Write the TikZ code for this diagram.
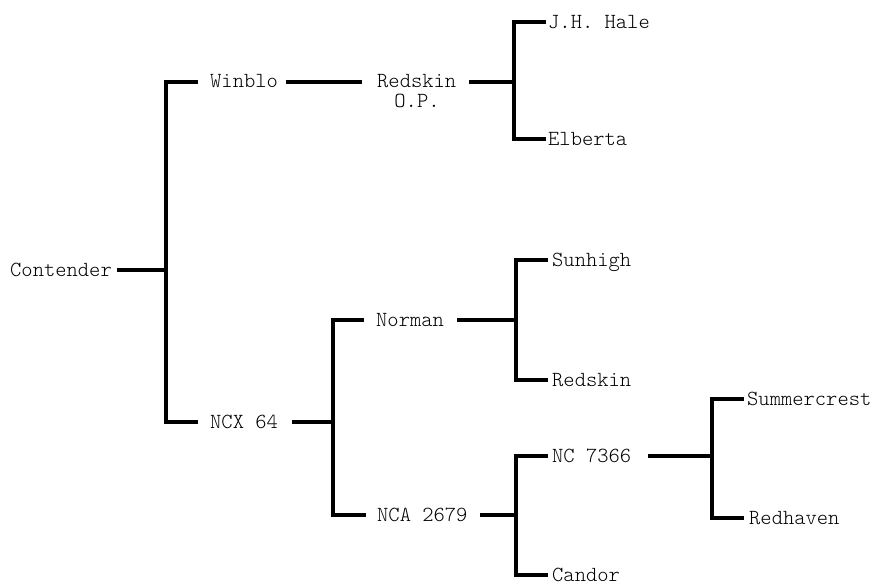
\documentclass[tikz,border=0pt]{standalone}
\usepackage{fontspec}
\newfontfamily\lmlight{lmmonolt10-regular.otf}
\begin{document}
\begin{tikzpicture}[x=1pt,y=-1pt,
 lbl/.style={anchor=base west,inner sep=0pt,font=\lmlight\fontsize{21.5}{24}\selectfont},
 con/.style={line width=3.4pt,line cap=butt,line join=miter}]
\useasboundingbox (0,0) rectangle (873,583);
% labels
\node[lbl] (contender) at (10,276.5) {Contender};
\node[lbl] (winblo) at (210,88) {Winblo};
\node[lbl] (redskin) at (377,87.5) {Redskin};
\node[lbl,anchor=base] (op) at (417,107.5) {O.P.};
\node[lbl] (jhhale) at (548,28.5) {J.H. Hale};
\node[lbl] (elberta) at (548,145.5) {Elberta};
\node[lbl] (ncx) at (210,428.5) {NCX 64};
\node[lbl] (norman) at (376,326.5) {Norman};
\node[lbl] (sunhigh) at (552,266.5) {Sunhigh};
\node[lbl] (redskintwo) at (552,386.5) {Redskin};
\node[lbl] (nca) at (377,521.5) {NCA 2679};
\node[lbl] (nc) at (552,462.5) {NC 7366};
\node[lbl] (candor) at (552,581.5) {Candor};
\node[lbl] (summercrest) at (747,405.5) {Summercrest};
\node[lbl] (redhaven) at (749,524.5) {Redhaven};
% junctions
\coordinate (a1) at (166,270);
\coordinate (a2) at (166,82);
\coordinate (a3) at (166,422);
\coordinate (b1) at (514,82);
\coordinate (b2) at (514,22);
\coordinate (b3) at (514,139);
\coordinate (c1) at (333,422);
\coordinate (c2) at (333,320);
\coordinate (c3) at (333,515);
\coordinate (d1) at (516,320);
\coordinate (d2) at (516,260);
\coordinate (d3) at (516,380);
\coordinate (e1) at (516,515);
\coordinate (e2) at (516,456);
\coordinate (e3) at (516,575);
\coordinate (f1) at (712,456);
\coordinate (f2) at (712,399);
\coordinate (f3) at (712,518);
% connectors
\draw[con] ([xshift=5pt]contender.east |- a1) -- (a1);
\draw[con] ([xshift=-12pt]winblo.west |- a2) -- (a2) -- (a3) -- ([xshift=-12pt]ncx.west |- a3);
\draw[con] ([xshift=8pt]winblo.east |- a2) -- ([xshift=-15pt]redskin.west |- a2);
\draw[con] ([xshift=13pt]redskin.east |- b1) -- (b1);
\draw[con] ([xshift=-2pt]jhhale.west |- b2) -- (b2) -- (b3) -- ([xshift=-2pt]elberta.west |- b3);
\draw[con] ([xshift=14pt]ncx.east |- c1) -- (c1);
\draw[con] ([xshift=-12pt]norman.west |- c2) -- (c2) -- (c3) -- ([xshift=-11pt]nca.west |- c3);
\draw[con] ([xshift=13pt]norman.east |- d1) -- (d1);
\draw[con] ([xshift=-4pt]sunhigh.west |- d2) -- (d2) -- (d3) -- ([xshift=-4pt]redskintwo.west |- d3);
\draw[con] ([xshift=12pt]nca.east |- e1) -- (e1);
\draw[con] ([xshift=-4pt]nc.west |- e2) -- (e2) -- (e3) -- ([xshift=-4pt]candor.west |- e3);
\draw[con] ([xshift=17pt]nc.east |- f1) -- (f1);
\draw[con] ([xshift=-3pt]summercrest.west |- f2) -- (f2) -- (f3) -- ([xshift=-5pt]redhaven.west |- f3);
\end{tikzpicture}
\end{document}
